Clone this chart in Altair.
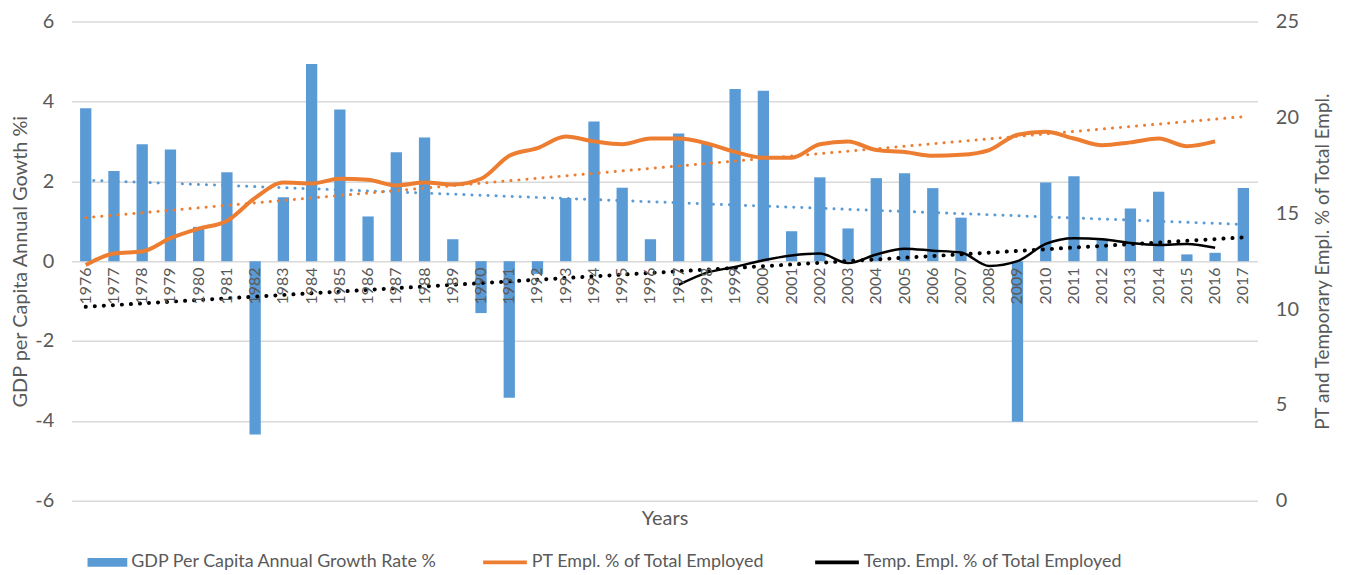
import altair as alt
import pandas as pd

years = list(range(1976, 2018))
gdp = [3.83, 2.26, 2.93, 2.80, 0.86, 2.23, -4.34, 1.60, 4.94, 3.80, 1.12, 2.73, 3.10, 0.55,
       -1.30, -3.42, -0.32, 1.58, 3.50, 1.84, 0.55, 3.20, 2.95, 4.31, 4.27, 0.75, 2.10, 0.82,
       2.08, 2.20, 1.83, 1.09, 0.0, -4.02, 1.97, 2.13, 0.55, 1.32, 1.74, 0.17, 0.21, 1.83]

pt_years = list(range(1976, 2017))
pt = [12.3, 12.9, 13.0, 13.7, 14.2, 14.6, 15.8, 16.6, 16.55, 16.8, 16.75, 16.45, 16.6, 16.5,
      16.8, 18.0, 18.4, 19.0, 18.75, 18.6, 18.9, 18.9, 18.65, 18.2, 17.9, 17.9, 18.6, 18.75,
      18.3, 18.2, 18.0, 18.05, 18.3, 19.1, 19.25, 18.9, 18.55, 18.7, 18.9, 18.5, 18.75]

temp_years = list(range(1997, 2017))
temp = [11.26, 11.9, 12.2, 12.55, 12.8, 12.9, 12.4, 12.85, 13.15, 13.05, 12.95, 12.25, 12.5,
        13.4, 13.7, 13.65, 13.45, 13.35, 13.4, 13.2]

trend_years = [1976, 2017]
gdp_trend = [2.03, 0.92]
pt_trend = [14.77, 20.04]
temp_trend = [10.12, 13.74]

S_GDP = "GDP Per Capita Annual Growth Rate %"
S_PT = "PT Empl. % of Total Employed"
S_TEMP = "Temp. Empl. % of Total Employed"

BLUE = "#5B9BD5"
ORANGE = "#ED7D31"
BLACK = "#000000"
GRID = "#D9D9D9"
TXT = "#595959"
FONT = "Lato"

df_gdp = pd.DataFrame({"year": years, "v": gdp, "series": S_GDP})
df_gdp_tr = pd.DataFrame({"year": trend_years, "v": gdp_trend})
df_pt = pd.DataFrame({"year": pt_years, "v": pt, "series": S_PT})
df_temp = pd.DataFrame({"year": temp_years, "v": temp, "series": S_TEMP})
df_pt_tr = pd.DataFrame({"year": trend_years, "v": pt_trend})
df_temp_tr = pd.DataFrame({"year": trend_years, "v": temp_trend})

x_enc = alt.X(
    "year:O",
    scale=alt.Scale(domain=years, paddingInner=0.6, paddingOuter=0.3),
    axis=alt.Axis(
        title="Years", labelAngle=270, labelAlign="right", labelBaseline="middle",
        labelPadding=6, ticks=False, domain=False, grid=False, offset=-241,
        labelFontSize=16, labelColor=TXT, labelFont=FONT,
        titleFontSize=20, titleColor=TXT, titleFont=FONT, titleFontWeight="normal",
        titleY=249, titleBaseline="top", zindex=1, labelOverlap=False,
    ),
)

y_left = alt.Y(
    "v:Q",
    scale=alt.Scale(domain=[-6, 6], nice=False),
    axis=alt.Axis(
        title="GDP per Capita Annual Gowth %i", values=[-6, -4, -2, 0, 2, 4, 6],
        labelExpr="'' + datum.value",
        grid=True, gridColor=GRID, gridWidth=1.5, domain=False, ticks=False,
        labelPadding=18, labelFontSize=20, labelColor=TXT, labelFont=FONT,
        titleFontSize=20, titleColor=TXT, titleFont=FONT, titleFontWeight="normal",
        titlePadding=4,
    ),
)

y_right = alt.Y(
    "v:Q",
    scale=alt.Scale(domain=[0, 25], nice=False),
    axis=alt.Axis(
        orient="right", title="PT  and Temporary Empl. % of Total Empl.",
        values=[0, 5, 10, 15, 20, 25], grid=False, domain=False, ticks=False,
        labelPadding=18, labelFontSize=20, labelColor=TXT, labelFont=FONT,
        titleFontSize=19, titleColor=TXT, titleFont=FONT, titleFontWeight="normal",
        titleAngle=270, titleBaseline="top", titlePadding=15,
    ),
)

fill_enc = alt.Fill(
    "series:N",
    scale=alt.Scale(domain=[S_GDP], range=[BLUE]),
    legend=alt.Legend(
        title=None, orient="none", legendX=16, legendY=524, direction="horizontal",
        symbolType="M-1,-0.22H1V0.22H-1Z", symbolSize=1600, symbolStrokeWidth=0,
        symbolOpacity=1, labelFontSize=18, labelColor=TXT, labelFont=FONT,
        labelOffset=4, padding=0, labelLimit=0,
    ),
)

stroke_enc = alt.Stroke(
    "series:N",
    scale=alt.Scale(domain=[S_PT, S_TEMP], range=[ORANGE, BLACK]),
    legend=alt.Legend(
        title=None, orient="none", legendX=412, legendY=520, direction="horizontal",
        columns=2, columnPadding=42, symbolType="stroke", symbolSize=1936,
        symbolStrokeWidth=4, symbolOpacity=1, labelFontSize=18, labelColor=TXT,
        labelFont=FONT, labelOffset=3, padding=0, labelLimit=0,
    ),
)

bars = alt.Chart(df_gdp).mark_bar().encode(x=x_enc, y=y_left, fill=fill_enc)
gdp_tr = alt.Chart(df_gdp_tr).mark_line(
    color=BLUE, strokeDash=[0.1, 8], strokeCap="round", strokeWidth=3
).encode(x=x_enc, y=y_left)

pt_line = alt.Chart(df_pt).mark_line(strokeWidth=4, interpolate="monotone").encode(
    x=x_enc, y=y_right, stroke=stroke_enc)
temp_line = alt.Chart(df_temp).mark_line(strokeWidth=2.5, interpolate="monotone").encode(
    x=x_enc, y=y_right, stroke=stroke_enc)
pt_tr = alt.Chart(df_pt_tr).mark_line(
    color=ORANGE, strokeDash=[0.1, 8], strokeCap="round", strokeWidth=3
).encode(x=x_enc, y=y_right)
temp_tr = alt.Chart(df_temp_tr).mark_line(
    color=BLACK, strokeDash=[0.1, 9], strokeCap="round", strokeWidth=4
).encode(x=x_enc, y=y_right)

left = alt.layer(bars, gdp_tr)
right = alt.layer(pt_line, temp_line, pt_tr, temp_tr)

chart = alt.layer(left, right).resolve_scale(y="independent").properties(
    width=1193, height=482,
    padding={"left": 2, "top": 2, "right": 5, "bottom": 0},
    background="white",
).configure_view(stroke=None)

chart.save("out.html", embed_options={"renderer": "svg", "actions": False})
